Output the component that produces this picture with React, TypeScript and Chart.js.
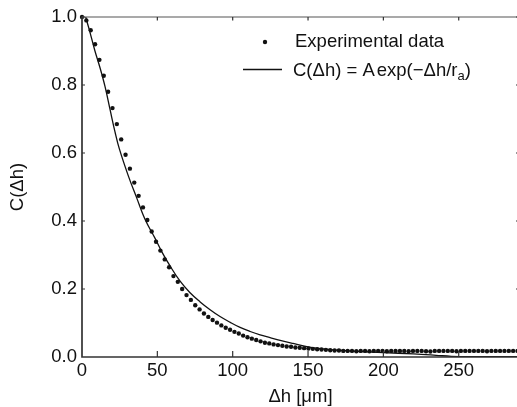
import React, { useEffect, useRef } from "react";
import { Chart, registerables } from "chart.js";

Chart.register(...registerables);

// ---- data ----
const sampleStep = 2.89; // spacing of experimental samples along Δh [µm]
const experimentalValues = [
  1.0, 0.99, 0.961, 0.92, 0.874, 0.827, 0.78, 0.732, 0.685, 0.64,
  0.595, 0.554, 0.513, 0.474, 0.44, 0.403, 0.369, 0.339, 0.313, 0.287,
  0.264, 0.238, 0.221, 0.2, 0.182, 0.168, 0.152, 0.14, 0.128, 0.118,
  0.109, 0.101, 0.093, 0.086, 0.08, 0.074, 0.069, 0.063, 0.058, 0.054,
  0.05, 0.046, 0.042, 0.04, 0.037, 0.035, 0.033, 0.031, 0.03, 0.028,
  0.027, 0.026, 0.025, 0.024, 0.023, 0.022, 0.021, 0.02, 0.019, 0.019,
  0.018, 0.018, 0.018, 0.017, 0.018, 0.018, 0.017, 0.018, 0.018, 0.018,
  0.017, 0.018, 0.018, 0.018, 0.018, 0.017, 0.018, 0.018, 0.018, 0.017,
  0.016, 0.018, 0.018, 0.018, 0.018, 0.018, 0.017, 0.018, 0.018, 0.018,
  0.018, 0.018, 0.018, 0.017, 0.018, 0.018, 0.018, 0.018, 0.018, 0.018,
  0.018,
];
const fitX = [
  0, 2.5, 5.3, 8.6, 12, 15.3, 18.6, 21.9, 24.8, 30.8, 36.3, 41.8, 48.5, 52.9,
  58.4, 65.1, 71.7, 78.4, 85, 91.6, 98.3, 104.9, 111.6, 118.2, 124.8, 131.5,
  140, 150, 160, 170, 185, 200, 220, 235, 245, 260, 290,
];
const fitY = [
  1.05, 1.0, 0.955, 0.9, 0.85, 0.795, 0.728, 0.662, 0.612, 0.532, 0.468, 0.405,
  0.349, 0.31, 0.268, 0.223, 0.189, 0.162, 0.139, 0.119, 0.102, 0.087, 0.075,
  0.065, 0.057, 0.049, 0.04, 0.03, 0.024, 0.02, 0.016, 0.013, 0.009, 0.005,
  0.002, 0.001, 0.001,
];
const xTicks = [0, 50, 100, 150, 200, 250];
const yTicks = [0, 0.2, 0.4, 0.6, 0.8, 1.0];
const xTitle = "Δh [μm]";
const yTitle = "C(Δh)";
const legendDataLabel = "Experimental data";
const legendFitParts = ["C(Δh) = A", "exp(\u2212Δh/r", "a", ")"];

const FONT = "'Liberation Sans', Arial, Helvetica, sans-serif";
const FS = 18.5;

const framePlugin = {
  id: "frame",
  afterDraw(chart: any) {
    const { ctx, chartArea } = chart;
    const { left, right, top, bottom } = chartArea;
    const xs = chart.scales.x;
    const ys = chart.scales.y;
    ctx.save();
    ctx.lineCap = "butt";
    // top and right border
    ctx.strokeStyle = "#555";
    ctx.lineWidth = 1.2;
    ctx.beginPath();
    ctx.moveTo(left, top);
    ctx.lineTo(right, top);
    ctx.moveTo(right, top);
    ctx.lineTo(right, bottom);
    ctx.stroke();
    // left and bottom axes
    ctx.strokeStyle = "#333";
    ctx.lineWidth = 1.7;
    ctx.beginPath();
    ctx.moveTo(left, top - 0.5);
    ctx.lineTo(left, bottom + 0.8);
    ctx.moveTo(left - 0.8, bottom);
    ctx.lineTo(right, bottom);
    ctx.stroke();
    // ticks (inward)
    ctx.lineWidth = 1.2;
    ctx.strokeStyle = "#333";
    ctx.beginPath();
    xTicks.forEach((v) => {
      const px = xs.getPixelForValue(v);
      if (v !== 0) {
        ctx.moveTo(px, bottom);
        ctx.lineTo(px, bottom - 6);
        ctx.moveTo(px, top);
        ctx.lineTo(px, top + 3.5);
      }
    });
    yTicks.forEach((v) => {
      const py = ys.getPixelForValue(v);
      if (v !== 0) {
        ctx.moveTo(left, py);
        ctx.lineTo(left + 3, py);
        ctx.moveTo(right, py);
        ctx.lineTo(right - 3, py);
      }
    });
    ctx.stroke();

    // legend
    ctx.fillStyle = "#111";
    ctx.beginPath();
    ctx.arc(265, 42, 2.2, 0, Math.PI * 2);
    ctx.fill();
    ctx.strokeStyle = "#111";
    ctx.lineWidth = 1.3;
    ctx.beginPath();
    ctx.moveTo(243, 69.5);
    ctx.lineTo(282, 69.5);
    ctx.stroke();

    ctx.font = `${FS}px ${FONT}`;
    ctx.textAlign = "left";
    ctx.textBaseline = "alphabetic";
    ctx.fillText(legendDataLabel, 295, 47);
    let x = 293;
    const base2 = 76;
    ctx.fillText(legendFitParts[0], x, base2);
    x += ctx.measureText(legendFitParts[0]).width + 2;
    ctx.fillText(legendFitParts[1], x, base2);
    x += ctx.measureText(legendFitParts[1]).width;
    ctx.font = `13px ${FONT}`;
    ctx.fillText(legendFitParts[2], x, base2 + 4);
    x += ctx.measureText(legendFitParts[2]).width;
    ctx.font = `${FS}px ${FONT}`;
    ctx.fillText(legendFitParts[3], x, base2);
    ctx.restore();
  },
};

export default function App() {
  const ref = useRef<HTMLCanvasElement | null>(null);

  useEffect(() => {
    if (!ref.current) return;
    const expData = experimentalValues.map((v, i) => ({ x: i * sampleStep, y: v }));
    const fitData = fitX.map((x, i) => ({ x, y: fitY[i] }));
    const chart = new Chart(ref.current, {
      type: "scatter",
      data: {
        datasets: [
          {
            label: legendDataLabel,
            data: expData,
            showLine: false,
            pointRadius: 2.2,
            pointHoverRadius: 2.2,
            pointBackgroundColor: "#111",
            pointBorderWidth: 0,
            borderColor: "#111",
            backgroundColor: "#111",
            clip: false as any,
          },
          {
            label: "fit",
            data: fitData,
            showLine: true,
            pointRadius: 0,
            borderColor: "#111",
            borderWidth: 1.3,
            tension: 0.4,
            fill: false,
          },
        ],
      },
      options: {
        responsive: false,
        animation: false,
        devicePixelRatio: 1,
        layout: { padding: { left: 0, top: 17, right: 6, bottom: 0 } },
        plugins: {
          legend: { display: false },
          tooltip: { enabled: false },
        },
        scales: {
          x: {
            type: "linear",
            min: 0,
            max: 290,
            grid: { display: false, drawTicks: false },
            border: { display: false },
            ticks: {
              stepSize: 50,
              includeBounds: false,
              padding: 3,
              color: "#111",
              font: { family: FONT, size: FS },
              maxRotation: 0,
            },
            title: {
              display: true,
              text: xTitle,
              color: "#111",
              font: { family: FONT, size: FS, lineHeight: 1 },
              padding: { top: 0, bottom: 1 },
            },
            afterFit: (s: any) => {
              s.height = 50;
            },
          },
          y: {
            type: "linear",
            min: 0,
            max: 1,
            grid: { display: false, drawTicks: false },
            border: { display: false },
            ticks: {
              stepSize: 0.2,
              padding: 5,
              color: "#111",
              font: { family: FONT, size: FS },
              callback: (v: any) => Number(v).toFixed(1),
            },
            title: {
              display: true,
              text: yTitle,
              color: "#111",
              font: { family: FONT, size: FS, lineHeight: 1 },
              padding: { top: 8.5, bottom: 0 },
            },
            afterFit: (s: any) => {
              s.width = 82;
            },
          },
        },
      },
      plugins: [framePlugin],
    });
    return () => chart.destroy();
  }, []);

  return (
    <div
      style={{
        position: "fixed",
        left: 0,
        top: 0,
        width: 517,
        height: 407,
        overflow: "hidden",
        background: "#fff",
      }}
    >
      <canvas ref={ref} width={525} height={407} style={{ width: 525, height: 407, display: "block" }} />
    </div>
  );
}
